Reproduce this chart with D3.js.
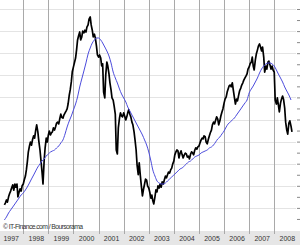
<!DOCTYPE html>
<html>
<head>
<meta charset="utf-8">
<script src="https://cdn.jsdelivr.net/npm/d3@7"></script>
<style>
body { margin: 0; background: #fff; }
svg { display: block; font-family: "Liberation Sans", Arial, sans-serif; }
</style>
</head>
<body>
<script>
var years = [1997, 1998, 1999, 2000, 2001, 2002, 2003, 2004, 2005, 2006, 2007, 2008];

// index closes, 1st and 15th of each month (1997 starts in April)
var close1997 = [2570,2610,2680,2630,2750,2820,2880,2950,3020,2900,3040,2970,3040,2750,2860,2930,2880,3000];
var close1998 = [3040,3130,3220,3360,3540,3760,3900,3990,3920,4040,4130,4080,4260,4380,4220,4010,3810,3580,3310,3040,3580,3860,4080,3990];
var close1999 = [4150,4240,4150,4200,4220,4310,4260,4330,4420,4440,4400,4510,4620,4550,4530,4600,4650,4690,4740,4850,5050,5170,5350,5580];
var close2000 = [5690,5780,5890,6070,6300,6390,6480,6300,6370,6500,6460,6520,6480,6590,6640,6770,6820,6640,6520,6370,6430,6340,6160,5960];
var close2001 = [5910,5960,5890,5710,5760,5120,4990,5510,5800,5710,5530,5330,5170,4990,4940,4810,4620,3810,3720,4310,4530,4650,4580,4560];
var close2002 = [4650,4580,4490,4560,4650,4720,4620,4560,4440,4380,4220,4040,3810,3470,3250,3520,3220,3000,2770,2910,3040,3150,3130,3000];
var close2003 = [2950,2860,2720,2790,2660,2590,2750,2910,2860,3000,2950,3040,2970,3090,3040,3130,3220,3180,3250,3310,3290,3360,3400,3490];
var close2004 = [3560,3700,3770,3810,3790,3630,3740,3790,3700,3630,3700,3740,3720,3650,3670,3610,3720,3770,3740,3700,3810,3860,3830,3880];
var close2005 = [3900,3970,4040,4080,4060,4130,4110,3990,3950,4040,4130,4200,4260,4380,4440,4400,4490,4560,4510,4380,4470,4580,4670,4740];
var close2006 = [4870,4960,5010,5120,5190,5260,5280,5240,5330,5170,4990,4850,4960,4920,5050,5150,5210,5280,5330,5390,5440,5480,5530,5640];
var close2007 = [5690,5760,5800,5910,5710,5620,5850,5980,6070,6160,6210,6140,6050,6140,5910,5570,5710,5640,5800,5820,5730,5640,5710,5620];
var close2008 = [5570,4940,4850,4990,4830,4670,4870,4960,5030,4960,4760,4440,4260,4170,4420,4470,4350,4220];

// moving average, 1st of each month
var ma1997 = [2227,2295,2385,2453,2521,2589,2657,2725,2793];
var ma1998 = [2838,2906,2974,3064,3155,3245,3336,3426,3494,3562,3607,3675];
var ma1999 = [3720,3765,3788,3810,3856,3901,3969,4037,4173,4331,4466,4580];
var ma2000 = [4715,4851,5010,5236,5417,5598,5779,5982,6118,6231,6299,6344];
var ma2001 = [6344,6299,6231,6140,6050,5937,5779,5575,5439,5326,5190,5077];
var ma2002 = [4987,4896,4783,4693,4602,4512,4421,4331,4240,4150,4037,3924];
var ma2003 = [3765,3562,3358,3222,3109,3064,3041,3041,3064,3109,3155,3200];
var ma2004 = [3245,3290,3336,3381,3404,3449,3494,3539,3562,3607,3652,3675];
var ma2005 = [3697,3743,3765,3788,3810,3856,3878,3924,3992,4060,4105,4173];
var ma2006 = [4240,4331,4399,4444,4489,4534,4602,4670,4738,4806,4874,4941];
var ma2007 = [5100,5190,5258,5349,5439,5552,5643,5711,5756,5779,5779,5756];
var ma2008 = [5711,5620,5530,5439,5349,5236,5145,5055,4941];

var closeByYear = [close1997,close1998,close1999,close2000,close2001,close2002,close2003,close2004,close2005,close2006,close2007,close2008];
var maByYear = [ma1997,ma1998,ma1999,ma2000,ma2001,ma2002,ma2003,ma2004,ma2005,ma2006,ma2007,ma2008];

var closeData = [], maData = [];
closeByYear.forEach(function(vals, k){
  var m0 = k == 0 ? 3 : 0;
  vals.forEach(function(v, i){
    closeData.push({date: new Date(Date.UTC(years[k], m0 + Math.floor(i/2), i%2 ? 15 : 1)), value: v});
  });
});
maByYear.forEach(function(vals, k){
  var m0 = k == 0 ? 3 : 0;
  vals.forEach(function(v, i){
    maData.push({date: new Date(Date.UTC(years[k], m0 + i, 1)), value: v});
  });
});

var W = 300, H = 245;
var svg = d3.select("body").append("svg").attr("width", W).attr("height", H);

var x = d3.scaleUtc()
  .domain([new Date(Date.UTC(1997,0,1)), new Date(Date.UTC(2009,0,1))])
  .range([-1.8, 299.4]);
var y = d3.scaleLinear().domain([2000, 7000]).range([230, 9]);

// horizontal grid
svg.append("g").selectAll("line")
  .data(d3.range(2500, 7001, 500))
  .enter().append("line")
    .attr("x1", 0).attr("x2", 296)
    .attr("y1", function(d){ return Math.round(y(d)) + 0.5; })
    .attr("y2", function(d){ return Math.round(y(d)) + 0.5; })
    .attr("stroke", "#e4e4e4");

// bottom band
svg.append("rect").attr("x", 0).attr("y", 231).attr("width", W).attr("height", 14).attr("fill", "#e6e6e6");

// vertical grid at year starts
svg.append("g").selectAll("line")
  .data(d3.utcYear.range(new Date(Date.UTC(1998,0,1)), new Date(Date.UTC(2009,0,1))))
  .enter().append("line")
    .attr("x1", function(d){ return Math.round(x(d)) + 0.5; })
    .attr("x2", function(d){ return Math.round(x(d)) + 0.5; })
    .attr("y1", 0).attr("y2", 234)
    .attr("stroke", "#a9a9a9");

// right ticks (labels are off the picture)
svg.append("g")
  .attr("transform", "translate(300,0)")
  .call(d3.axisLeft(y).tickValues(d3.range(2250, 7251, 250)).tickSize(3).tickFormat(""))
  .call(function(g){ g.select(".domain").remove(); g.selectAll("line").attr("stroke", "#888"); });

// year labels
svg.append("g")
  .attr("transform", "translate(0,231)")
  .call(d3.axisBottom(x)
    .tickValues(years.map(function(yr){ return new Date(Date.UTC(yr, 6, 2)); }))
    .tickSize(0).tickPadding(5)
    .tickFormat(d3.utcFormat("%Y")))
  .call(function(g){
    g.select(".domain").remove();
    g.selectAll("text").attr("font-size", 7).attr("fill", "#333").attr("font-family", "Liberation Sans, Arial, sans-serif");
  });

var line = d3.line()
  .x(function(d){ return x(d.date); })
  .y(function(d){ return y(d.value); });

svg.append("path")
  .attr("fill", "none")
  .attr("stroke", "#000")
  .attr("stroke-width", 1.7)
  .attr("stroke-linejoin", "round")
  .attr("d", line(closeData));

svg.append("path")
  .attr("fill", "none")
  .attr("stroke", "#4b4bdc")
  .attr("stroke-width", 1)
  .attr("d", line.curve(d3.curveMonotoneX)(maData));

svg.append("text")
  .attr("x", 3).attr("y", 229)
  .attr("font-size", 6.8)
  .attr("fill", "#333")
  .attr("textLength", 80)
  .text("© IT-Finance.com / Boursorama");
</script>
</body>
</html>
